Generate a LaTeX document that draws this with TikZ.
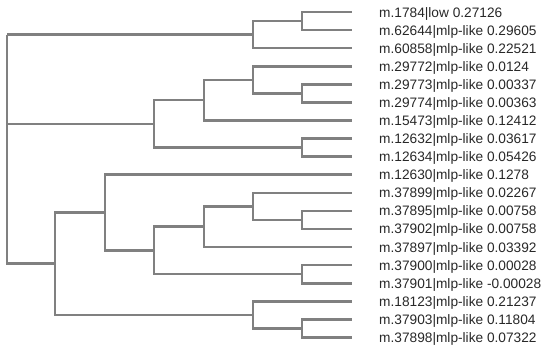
\documentclass[tikz,border=0pt]{standalone}
\usepackage{fontspec}
\setmainfont{Liberation Sans}
\definecolor{branch}{RGB}{128,128,128}
\definecolor{labeltext}{RGB}{40,40,40}
\begin{document}
\begin{tikzpicture}[x=1pt,y=-1pt,
  branchline/.style={draw=branch,line width=2.6pt,line join=miter},
  leaflabel/.style={anchor=base west,inner sep=0pt,text=labeltext,font=\fontsize{13.7}{16}\selectfont}]
\useasboundingbox (0,0) rectangle (550,348);
% leaves and labels
\foreach \i/\t in {1/{m.1784|low 0.27126},2/{m.62644|mlp-like 0.29605},3/{m.60858|mlp-like 0.22521},
  4/{m.29772|mlp-like 0.0124},5/{m.29773|mlp-like 0.00337},6/{m.29774|mlp-like 0.00363},
  7/{m.15473|mlp-like 0.12412},8/{m.12632|mlp-like 0.03617},9/{m.12634|mlp-like 0.05426},
  10/{m.12630|mlp-like 0.1278},11/{m.37899|mlp-like 0.02267},12/{m.37895|mlp-like 0.00758},
  13/{m.37902|mlp-like 0.00758},14/{m.37897|mlp-like 0.03392},15/{m.37900|mlp-like 0.00028},
  16/{m.37901|mlp-like -0.00028},17/{m.18123|mlp-like 0.21237},18/{m.37903|mlp-like 0.11804},
  19/{m.37898|mlp-like 0.07322}}{
  \pgfmathsetmacro{\yy}{12+(\i-1)*18.08}
  \coordinate (l\i) at (352,\yy);
  \node[leaflabel] (t\i) at (379,\yy+5) {\t};
}
% internal nodes
\coordinate (root) at (7,34.6);
\coordinate (a) at (253,34.6);
\coordinate (n12) at (302,21.04);
\coordinate (b) at (154,123.87);
\coordinate (c) at (204,100.14);
\coordinate (d) at (253,79.8);
\coordinate (n56) at (302,93.36);
\coordinate (n89) at (302,147.6);
\coordinate (e) at (55,263.71);
\coordinate (f) at (105,212.58);
\coordinate (h) at (154,250.43);
\coordinate (i) at (204,226.7);
\coordinate (j) at (253,206.36);
\coordinate (n1213) at (302,219.92);
\coordinate (n1516) at (302,274.16);
\coordinate (g) at (253,314.84);
\coordinate (n1819) at (302,328.4);
% branches
\path[branchline] (root) |- (a) (root) |- (b) (root) |- (e);
\path[branchline] (a) |- (n12) (a) |- (l3);
\path[branchline] (n12) |- (l1) (n12) |- (l2);
\path[branchline] (b) |- (c) (b) |- (n89);
\path[branchline] (c) |- (d) (c) |- (l7);
\path[branchline] (d) |- (l4) (d) |- (n56);
\path[branchline] (n56) |- (l5) (n56) |- (l6);
\path[branchline] (n89) |- (l8) (n89) |- (l9);
\path[branchline] (e) |- (f) (e) |- (g);
\path[branchline] (f) |- (l10) (f) |- (h);
\path[branchline] (h) |- (i) (h) |- (n1516);
\path[branchline] (i) |- (j) (i) |- (l14);
\path[branchline] (j) |- (l11) (j) |- (n1213);
\path[branchline] (n1213) |- (l12) (n1213) |- (l13);
\path[branchline] (n1516) |- (l15) (n1516) |- (l16);
\path[branchline] (g) |- (l17) (g) |- (n1819);
\path[branchline] (n1819) |- (l18) (n1819) |- (l19);
\end{tikzpicture}
\end{document}
